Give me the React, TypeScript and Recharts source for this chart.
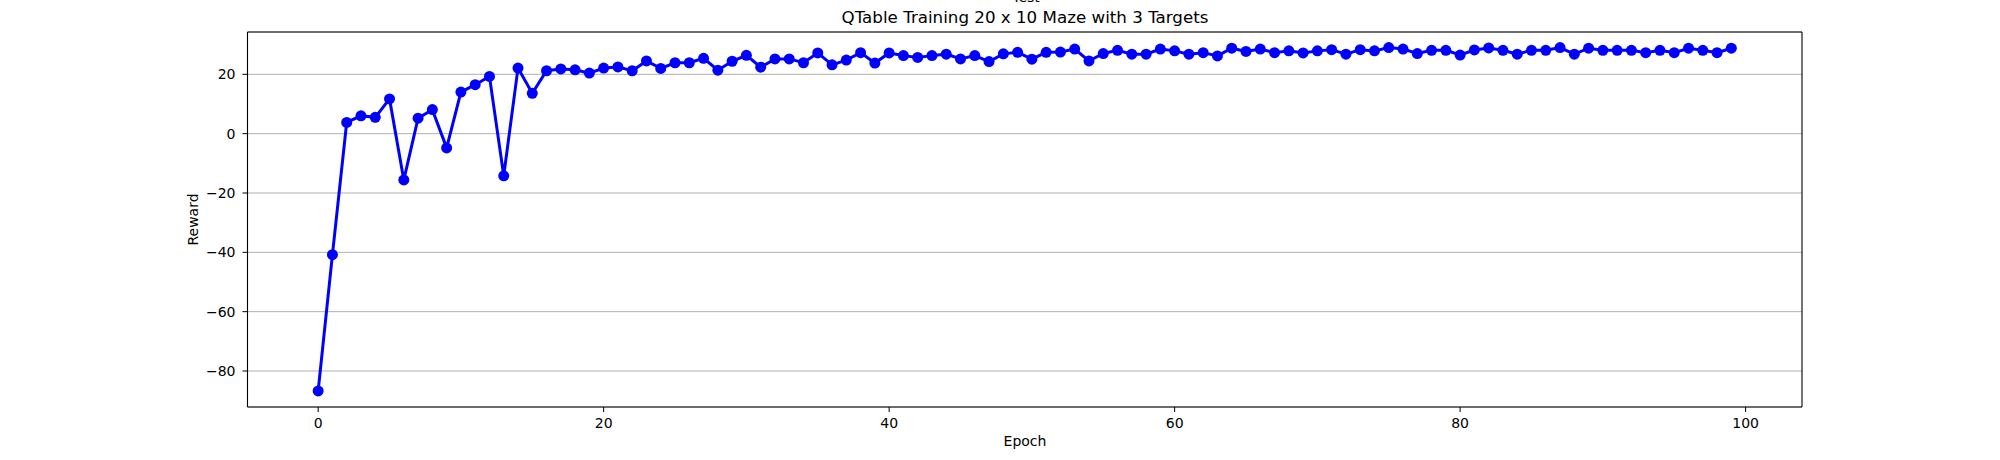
import { LineChart, Line, XAxis, YAxis, CartesianGrid, ReferenceLine } from 'recharts';

// reward per epoch (epoch = index)
const rewards = [
  -86.7, -40.8, 3.8, 6.0, 5.5, 11.7, -15.6, 5.2, 8.1, -4.8,
  14.0, 16.5, 19.3, -14.2, 22.1, 13.6, 21.2, 21.8, 21.5, 20.4,
  22.1, 22.5, 21.2, 24.5, 22.0, 23.9, 23.9, 25.4, 21.4, 24.4,
  26.4, 22.4, 25.2, 25.2, 23.9, 27.2, 23.2, 24.8, 27.3, 23.8,
  27.2, 26.3, 25.7, 26.3, 26.8, 25.2, 26.3, 24.3, 26.9, 27.4,
  25.1, 27.4, 27.5, 28.5, 24.5, 27.0, 28.1, 26.8, 26.8, 28.5,
  27.9, 26.8, 27.3, 26.2, 28.8, 27.7, 28.5, 27.3, 27.9, 27.2,
  27.9, 28.3, 26.8, 28.3, 27.9, 29.0, 28.5, 27.0, 28.1, 28.1,
  26.5, 28.2, 28.9, 28.1, 26.8, 28.1, 28.1, 29.0, 26.8, 28.8,
  28.1, 28.1, 28.1, 27.3, 28.1, 27.3, 28.8, 28.1, 27.3, 28.8,
];

const xTicks = [0, 20, 40, 60, 80, 100];
const yTicks = [-80, -60, -40, -20, 0, 20];

const data = rewards.map((r, i) => ({ epoch: i, reward: r }));

const X_MIN = -4.95;
const X_MAX = 103.95;
const Y_MIN = -92.13;
const Y_MAX = 34.26;

const font = '"DejaVu Sans", sans-serif';
const fmt = (v: number) => (v < 0 ? '\u2212' + Math.abs(v) : String(v));

export default function App() {
  return (
    <div style={{ position: 'absolute', left: 0, top: 0, width: 2000, height: 460, background: '#fff', fontFamily: font }}>
      <LineChart width={2000} height={460} data={data} margin={{ top: 32, right: 198, bottom: 13, left: 187.5 }}>
        <CartesianGrid vertical={false} stroke="#b0b0b0" strokeWidth={1} />
        <XAxis
          dataKey="epoch"
          type="number"
          domain={[X_MIN, X_MAX]}
          ticks={xTicks}
          allowDataOverflow
          height={40}
          tickSize={5}
          tickMargin={6}
          axisLine={{ stroke: '#000', strokeWidth: 1.1 }}
          tickLine={{ stroke: '#000' }}
          tick={{ fontSize: 14, fill: '#000', fontFamily: font }}
        />
        <YAxis
          type="number"
          domain={[Y_MIN, Y_MAX]}
          ticks={yTicks}
          allowDataOverflow
          width={60}
          tickSize={5}
          tickMargin={7}
          tickFormatter={fmt}
          axisLine={{ stroke: '#000', strokeWidth: 1.1 }}
          tickLine={{ stroke: '#000' }}
          tick={{ fontSize: 14, fill: '#000', fontFamily: font }}
        />
        <ReferenceLine y={Y_MAX} stroke="#000" strokeWidth={1.1} />
        <ReferenceLine x={X_MAX} stroke="#000" strokeWidth={1.1} />
        <Line
          type="linear"
          dataKey="reward"
          stroke="#0000ff"
          strokeWidth={3}
          dot={{ r: 5.5, fill: '#0000ff', stroke: '#0000ff', strokeWidth: 0 }}
          activeDot={false}
          isAnimationActive={false}
        />
      </LineChart>
      <svg width={2000} height={460} style={{ position: 'absolute', left: 0, top: 0, pointerEvents: 'none' }}>
        <text x={1026} y={1.5} textAnchor="middle" fontSize={14} fontFamily={font} fill="#000">Test</text>
        <text x={1025} y={23} textAnchor="middle" fontSize={16.7} fontFamily={font} fill="#000">
          QTable Training 20 x 10 Maze with 3 Targets
        </text>
        <text x={1025} y={446} textAnchor="middle" fontSize={14} fontFamily={font} fill="#000">Epoch</text>
        <text x={0} y={0} transform="translate(198 219.5) rotate(-90)" textAnchor="middle" fontSize={14} fontFamily={font} fill="#000">
          Reward
        </text>
      </svg>
    </div>
  );
}
